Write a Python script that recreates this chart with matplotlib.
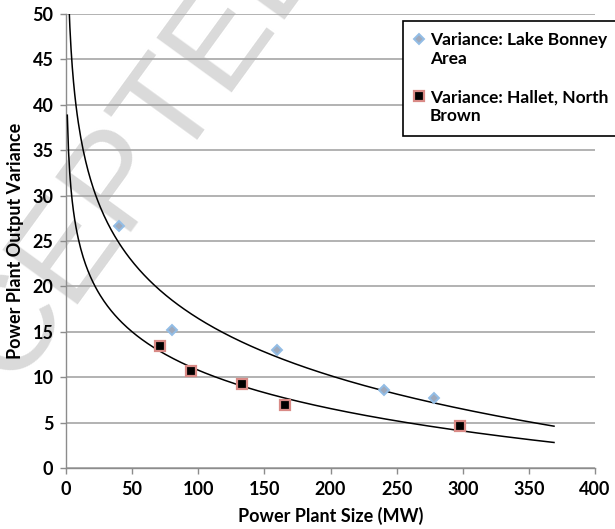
import matplotlib
matplotlib.use('Agg')
import matplotlib.pyplot as plt
from matplotlib import font_manager
import numpy as np
from matplotlib.legend_handler import HandlerLine2D

# data
bonney_size = [40.3, 80.3, 159.7, 240.3, 278.0]
bonney_var = [26.6, 15.2, 13.0, 8.6, 7.7]
hallet_size = [71.4, 94.6, 132.9, 165.4, 298.0]
hallet_var = [13.4, 10.7, 9.2, 6.9, 4.6]

bonney_label = 'Variance: Lake Bonney\nArea'
hallet_label = 'Variance: Hallet, North\nBrown'

x_ticks = [0, 50, 100, 150, 200, 250, 300, 350, 400]
y_ticks = [0, 5, 10, 15, 20, 25, 30, 35, 40, 45, 50]

# trend line range (Excel forecast)
bonney_fit_range = (2, 369)
hallet_fit_range = (1, 369)


def bold_family():
    for fam in ['Lato', 'Open Sans', 'Liberation Sans']:
        try:
            path = font_manager.findfont(
                font_manager.FontProperties(family=fam, weight='bold'),
                fallback_to_default=False)
        except Exception:
            continue
        if 'bold' in path.lower() or 'black' in path.lower():
            return fam
    return 'DejaVu Sans'


class TopHandler(HandlerLine2D):
    # put the marker next to the first text line
    def create_artists(self, legend, orig_handle, xdescent, ydescent,
                       width, height, fontsize, trans):
        artists = super().create_artists(legend, orig_handle, xdescent,
                                         ydescent, width, height,
                                         fontsize, trans)
        for a in artists:
            a.set_ydata(np.asarray(a.get_ydata()) + fontsize * 0.62)
        return artists


def log_trend(xs, ys, lo, hi):
    b, a = np.polyfit(np.log(xs), ys, 1)
    xx = np.linspace(lo, hi, 400)
    return xx, a + b * np.log(xx)


def main():
    fam = bold_family()
    plt.rcParams['font.family'] = [fam, 'DejaVu Sans']
    plt.rcParams['font.weight'] = 'bold'
    fs = 13 if fam == 'Lato' else 12
    leg_fs = fs - 0.5

    fig = plt.figure(figsize=(6.15, 5.29), dpi=100)
    ax = fig.add_axes([0.1073, 0.1153, 0.8602, 0.8582])
    ax.set_facecolor('none')

    # watermark behind the plot
    fig.text(-0.154, -0.026, 'ACCEPTED', rotation=54, fontsize=97,
             color='#dadada', ha='left', va='baseline',
             rotation_mode='anchor',
             family='Liberation Sans', weight='normal', zorder=-5)

    ax.set_xlim(0, 400)
    ax.set_ylim(0, 50)
    ax.set_xticks(x_ticks)
    ax.set_yticks(y_ticks)
    ax.yaxis.grid(True, color='#a6a6a6', linewidth=1.2)
    ax.set_axisbelow(True)
    for side in ['top', 'right']:
        ax.spines[side].set_visible(False)
    for side in ['left', 'bottom']:
        ax.spines[side].set_color('#8c8c8c')
        ax.spines[side].set_linewidth(1.0)
    ax.tick_params(axis='both', direction='out', length=4, width=1,
                   color='#8c8c8c', labelsize=fs, pad=5)
    for lab in ax.get_xticklabels() + ax.get_yticklabels():
        lab.set_fontweight('bold')

    xx, yy = log_trend(bonney_size, bonney_var, *bonney_fit_range)
    ax.plot(xx, yy, color='black', linewidth=1.1, zorder=3)
    xx, yy = log_trend(hallet_size, hallet_var, *hallet_fit_range)
    ax.plot(xx, yy, color='black', linewidth=1.1, zorder=3)

    ax.plot(bonney_size, bonney_var, linestyle='none', marker='D',
            markersize=5.5, markerfacecolor='#9ea9bb',
            markeredgecolor='#92bde6', markeredgewidth=1.4,
            label=bonney_label, zorder=4)
    ax.plot(hallet_size, hallet_var, linestyle='none', marker='s',
            markersize=7.5, markerfacecolor='black',
            markeredgecolor='#d98a86', markeredgewidth=1.6,
            label=hallet_label, zorder=4)

    ax.set_xlabel('Power Plant Size (MW)', fontsize=fs, fontweight='bold',
                  labelpad=7)
    ax.set_ylabel('Power Plant Output Variance', fontsize=fs,
                  fontweight='bold', labelpad=6)

    leg = ax.legend(loc='upper left', bbox_to_anchor=(0.637, 0.985),
                    frameon=True, fancybox=False, framealpha=1,
                    edgecolor='black', fontsize=leg_fs, handlelength=0.6,
                    handletextpad=0.3, borderpad=0.65, labelspacing=1.25,
                    borderaxespad=0,
                    handler_map={plt.Line2D: TopHandler()})
    leg.get_frame().set_linewidth(1.2)
    leg.set_zorder(10)
    for t in leg.get_texts():
        t.set_fontweight('bold')
        t.set_linespacing(1.25)
    leg.get_lines()[0].set_markersize(5.5)
    leg.get_lines()[1].set_markersize(6.5)

    plt.savefig('out.png', dpi=100)


if __name__ == '__main__':
    main()
